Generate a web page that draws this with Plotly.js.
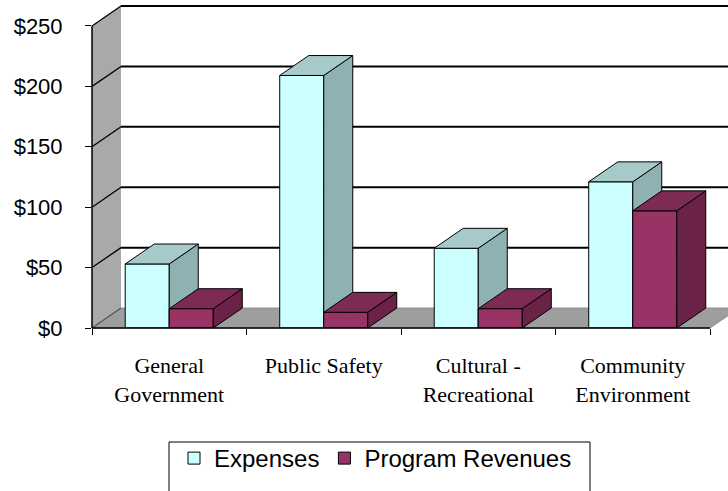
<!DOCTYPE html>
<html><head><meta charset="utf-8">
<script src="https://cdn.plot.ly/plotly-3.0.1.min.js"></script>
<style>html,body{margin:0;padding:0;background:#fff}</style>
</head><body><div id="chart" style="width:728px;height:491px"></div>
<script>
// ---- data ----
const categories = ["General<br>Government", "Public Safety", "Cultural -<br>Recreational", "Community<br>Environment"];
const expenses = [53, 209, 66, 121];
const programRevenues = [16, 13, 16, 97];
const yTickVals = [0, 50, 100, 150, 200, 250];
const yTickText = ["$0", "$50", "$100", "$150", "$200", "$250"];
const seriesNames = ["Expenses", "Program Revenues"];

// ---- styling / 3D geometry ----
const DX = 0.1877;      // depth offset in category units
const DY = 16.5;        // depth offset in value units
const W = 0.285;        // bar width
const XR = [-0.5, 3.6165];
const YR = [0, 250 + DY];
const colExp = {front: "#CCFFFF", top: "#A6CACA", side: "#8FB1B1"};
const colRev = {front: "#993366", top: "#7D2A55", side: "#6A2246"};

const xs = categories.map((c, i) => i);

function faces(vals, offset, col, xa, ya) {
  const sx = [], sy = [], tx = [], ty = [];
  vals.forEach((v, i) => {
    const x0 = i + offset, x1 = x0 + W;
    sx.push(x1, x1 + DX, x1 + DX, x1, x1, null);
    sy.push(0, DY, v + DY, v, 0, null);
    tx.push(x0, x0 + DX, x1 + DX, x1, x0, null);
    ty.push(v, v + DY, v + DY, v, v, null);
  });
  const common = {type: "scatter", mode: "lines", fill: "toself", showlegend: false,
    hoverinfo: "skip", xaxis: xa, yaxis: ya, line: {color: "#000", width: 1}};
  return [
    Object.assign({}, common, {x: sx, y: sy, fillcolor: col.side}),
    Object.assign({}, common, {x: tx, y: ty, fillcolor: col.top})
  ];
}

const traces = [
  {type: "bar", name: seriesNames[0], x: xs, y: expenses, width: W, offset: -W,
   marker: {color: colExp.front, line: {color: "#000", width: 1}}, xaxis: "x", yaxis: "y"},
  ...faces(expenses, -W, colExp, "x", "y"),
  {type: "bar", name: seriesNames[1], x: xs, y: programRevenues, width: W, offset: 0,
   marker: {color: colRev.front, line: {color: "#000", width: 1}}, xaxis: "x2", yaxis: "y2"},
  ...faces(programRevenues, 0, colRev, "x2", "y2")
];

// shapes in domain coordinates (computed from axis values)
const fx = v => (v - XR[0]) / (XR[1] - XR[0]);
const fy = v => (v - YR[0]) / (YR[1] - YR[0]);
const shapes = [];
const dom = {xref: "x domain", yref: "y domain"};
// left wall
shapes.push(Object.assign({type: "path", layer: "below", fillcolor: "#A9A9A9", line: {width: 0},
  path: `M${fx(-0.5)},${fy(0)} L${fx(-0.5)},${fy(250)} L${fx(-0.5 + DX)},${fy(250 + DY)} L${fx(-0.5 + DX)},${fy(DY)} Z`}, dom));
// floor
shapes.push(Object.assign({type: "path", layer: "below", fillcolor: "#9E9E9E", line: {color: "#8A8A8A", width: 1},
  path: `M${fx(-0.5)},${fy(0)} L${fx(3.5)},${fy(0)} L${fx(3.5 + DX)},${fy(DY)} L${fx(-0.5 + DX)},${fy(DY)} Z`}, dom));
// back-wall gridlines and left-wall diagonals
yTickVals.forEach(v => {
  if (v > 0) {
    shapes.push(Object.assign({type: "line", layer: "below", x0: fx(-0.5 + DX), x1: 1.05, y0: fy(v + DY), y1: fy(v + DY),
      line: {color: "#000", width: 2}}, dom));
  }
  shapes.push(Object.assign({type: "line", layer: "below", x0: fx(-0.5), x1: fx(-0.5 + DX), y0: fy(v), y1: fy(v + DY),
    line: {color: v === 0 ? "#555" : "#000", width: 1.3}}, dom));
});
// axis lines
shapes.push(Object.assign({type: "line", layer: "above", x0: fx(-0.5), x1: fx(-0.5), y0: fy(0), y1: fy(250),
  line: {color: "#000", width: 1.5}}, dom));
shapes.push(Object.assign({type: "line", layer: "above", x0: fx(-0.5), x1: fx(3.5), y0: fy(0), y1: fy(0),
  line: {color: "#000", width: 1.5}}, dom));
// legend frame (extends past the bottom edge, as in the reference)
shapes.push({type: "rect", xref: "paper", yref: "paper", layer: "above",
  x0: (169 - 92) / 636, x1: (590 - 92) / 636, y0: (328 - 442) / 322, y1: (328 - 505) / 322,
  line: {color: "#000", width: 1}, fillcolor: "rgba(0,0,0,0)"});

const layout = {
  width: 728, height: 491,
  margin: {l: 92, r: 0, t: 6, b: 163},
  paper_bgcolor: "#fff", plot_bgcolor: "#fff",
  hovermode: false,
  showlegend: true,
  xaxis: {range: XR, tickvals: xs, ticktext: categories, ticks: "", showgrid: false, zeroline: false,
    showline: false, ticklabelstandoff: 22,
    tickfont: {family: "Liberation Serif, Times New Roman, serif", size: 22, color: "#000"}},
  xaxis2: {range: XR, overlaying: "x", side: "bottom", tickvals: [-0.5, 0.5, 1.5, 2.5, 3.5], ticks: "outside",
    ticklen: 6, tickcolor: "#000", tickwidth: 1, showticklabels: false, showgrid: false, zeroline: false, showline: false},
  yaxis: {range: YR, tickvals: yTickVals, ticktext: yTickText, ticks: "outside", ticklen: 6, tickcolor: "#000",
    showgrid: false, zeroline: false, showline: false, ticklabelstandoff: 18,
    tickfont: {family: "Liberation Sans, Arial, sans-serif", size: 22, color: "#000"}},
  yaxis2: {range: YR, overlaying: "y", visible: false},
  legend: {orientation: "h", x: (174 - 92) / 636, xanchor: "left", y: (328 - 436) / 322, yanchor: "top",
    borderwidth: 0, bgcolor: "rgba(0,0,0,0)",
    font: {family: "Liberation Sans, Arial, sans-serif", size: 24, color: "#000"}},
  shapes: shapes
};

Plotly.newPlot("chart", traces, layout, {displayModeBar: false, staticPlot: true});
</script>
</body></html>
